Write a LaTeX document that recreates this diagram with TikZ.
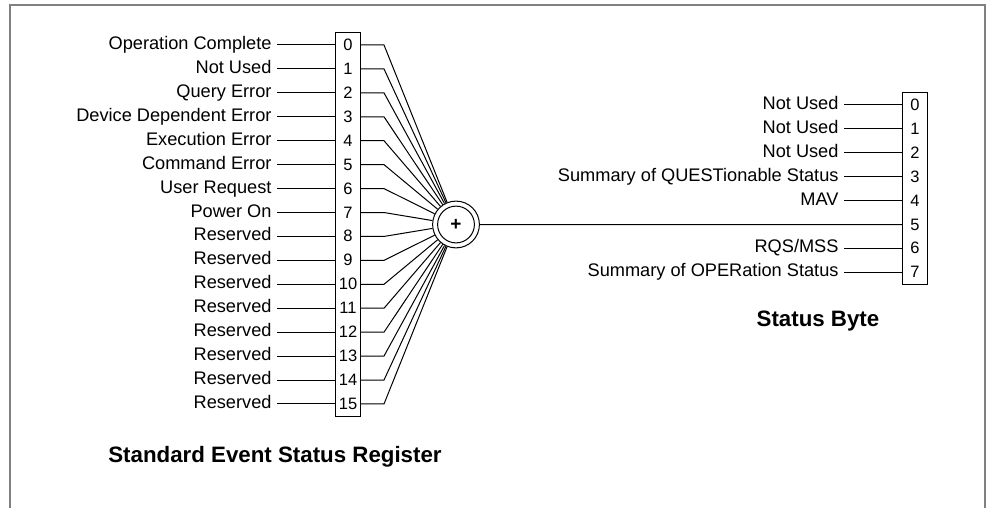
\documentclass[tikz,border=0pt]{standalone}
\usepackage{fontspec}
\setmainfont{Liberation Sans}
\usetikzlibrary{fit}
\begin{document}
\begin{tikzpicture}[x=1pt,y=-1pt,line width=1pt,
  lab/.style={anchor=east,inner xsep=5pt,inner ysep=0pt,text height=12.5pt,text depth=3.5pt,font=\fontsize{18.2}{20}\selectfont},
  bit/.style={minimum width=24pt,minimum height=23.9pt,inner sep=0pt,text height=11pt,text depth=0pt,font=\fontsize{16.5}{18}\selectfont},
  ttl/.style={font=\fontsize{22.3}{26}\selectfont\bfseries},
  frame/.style={draw=black!50,line width=1.3pt},
  ring/.style={circle,draw,inner sep=0pt}]
\useasboundingbox (0,0) rectangle (990,508);
\draw[frame] (10,508) -- (10,5) -- (985,5) -- (985,508);
% summing junction
\node[ring,minimum size=46.8pt] (sum) at (456,224.5) {};
\node[ring,minimum size=36.8pt,font=\fontsize{19}{20}\selectfont\bfseries] (suminner) at (sum.center) {+};
% left register
\foreach \t [count=\i from 0] in {Operation Complete,Not Used,Query Error,Device Dependent Error,Execution Error,Command Error,User Request,Power On,Reserved,Reserved,Reserved,Reserved,Reserved,Reserved,Reserved,Reserved} {
  \node[bit] (n\i) at (348,45+\i*23.93) {\i};
  \node[lab] (l\i) at (277,45+\i*23.93) {\t};
  \draw (l\i.east) -- (n\i.west);
  \coordinate (b\i) at (384,45+\i*23.93);
  \draw (n\i.east) -- (b\i) -- (sum);
}
\node[draw,inner sep=0pt,fit=(n0)(n15)] (lbox) {};
% status byte
\foreach \j in {0,...,7} {
  \node[bit] (r\j) at (915,105+\j*23.9) {\j};
}
\node[draw,inner sep=0pt,fit=(r0)(r7)] (rbox) {};
\foreach \j/\t in {0/Not Used,1/Not Used,2/Not Used,3/Summary of QUESTionable Status,4/MAV,6/{RQS/MSS},7/Summary of OPERation Status} {
  \node[lab] (s\j) at (844,105+\j*23.9) {\t};
  \draw (s\j.east) -- (r\j.west);
}
\draw (sum.east) -- (r5.west);
% titles
\node[ttl] (t1) at (275,457) {Standard Event Status Register};
\node[ttl] (t2) at (818,321) {Status Byte};
\end{tikzpicture}
\end{document}
